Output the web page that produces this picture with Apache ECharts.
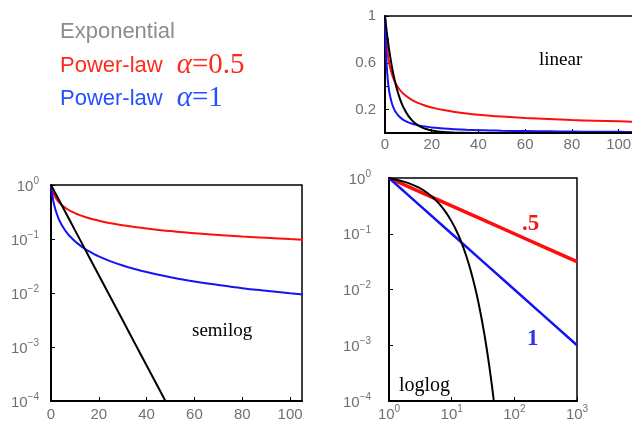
<!DOCTYPE html>
<html>
<head>
<meta charset="utf-8">
<script src="https://cdn.jsdelivr.net/npm/echarts@6/dist/echarts.min.js"></script>
<style>html,body{margin:0;padding:0;background:#fff}#c{width:632px;height:423px}</style>
</head>
<body>
<div id="c"></div>
<script>
// ---- data ----
// time samples shared by the linear and semilog panels
const tVals = [0, 0.5, 1, 1.5, 2, 3, 4, 5, 6, 7, 8, 10, 12, 14, 16, 18, 20, 25, 30, 35, 40, 45, 50, 60, 70, 80, 90, 100, 110];
const expVals = [1, 0.908, 0.825, 0.749, 0.681, 0.562, 0.463, 0.382, 0.315, 0.260, 0.215, 0.146, 0.0995, 0.0677, 0.0461, 0.0314, 0.0214, 0.00817, 0.00312, 0.00119, 0.000456, 0.000174, 0.0000665, 0.0000097, 0.0000014, 0.00000021, 0.00000003, 0.0000000045, 0.00000000065];
const pow05Vals = [1, 0.816, 0.707, 0.632, 0.577, 0.50, 0.447, 0.408, 0.378, 0.354, 0.333, 0.302, 0.277, 0.258, 0.243, 0.229, 0.218, 0.196, 0.180, 0.167, 0.156, 0.147, 0.140, 0.128, 0.119, 0.111, 0.105, 0.0995, 0.095];
const pow1Vals = [1, 0.667, 0.50, 0.40, 0.333, 0.25, 0.20, 0.167, 0.143, 0.125, 0.111, 0.091, 0.077, 0.0667, 0.0588, 0.0526, 0.0476, 0.0385, 0.0323, 0.0278, 0.0244, 0.0217, 0.0196, 0.0164, 0.0141, 0.0123, 0.011, 0.0099, 0.009];
// loglog panel
const expLogX = [1, 2, 3, 4, 5, 6, 8, 10, 12, 14, 17, 20, 24, 28, 32, 36, 40, 44, 48, 52];
const expLogY = [1, 0.819, 0.670, 0.549, 0.449, 0.368, 0.247, 0.165, 0.111, 0.0743, 0.0408, 0.0224, 0.0101, 0.00452, 0.00203, 0.000912, 0.000409, 0.000184, 0.0000827, 0.0000372];
const powLogX = [1, 3, 10, 30, 100, 300, 1000];
const pow05LogY = [1, 0.577, 0.316, 0.183, 0.1, 0.0577, 0.0316];
const pow1LogY = [1, 0.333, 0.1, 0.0333, 0.01, 0.00333, 0.001];
// tick labels
const linYLabels = {'0.2': '0.2', '0.6': '0.6', '1.0': '1'};
const logYLabels = {'-4': ['10', '−4'], '-3': ['10', '−3'], '-2': ['10', '−2'], '-1': ['10', '−1'], '0': ['10', '0']};
const logXLabels = {'0': ['10', '0'], '1': ['10', '1'], '2': ['10', '2'], '3': ['10', '3']};
// legend / annotation texts
const legendExp = 'Exponential';
const legendPow05 = ['Power-law', 'α', '=0.5'];
const legendPow1 = ['Power-law', 'α', '=1'];

const RED = '#ff0d0d', BLUE = '#1414f5', BLACK = '#000';
const zip = (xs, ys) => xs.map((x, i) => [x, ys[i]]);
const labelColor = '#707070';
const richSup = {
  b: {fontFamily: 'Liberation Sans', fontSize: 15, color: labelColor, lineHeight: 18, verticalAlign: 'bottom'},
  s: {fontFamily: 'Liberation Sans', fontSize: 10, color: labelColor, lineHeight: 18, verticalAlign: 'top'}
};
const logFmt = (map) => (v) => {
  const k = String(Math.round(Math.log10(v)));
  const p = map[k];
  return p ? '{b|' + p[0] + '}{s|' + p[1] + '}' : '';
};
const axisLineStyle = {show: true, lineStyle: {color: '#000', width: 2}};
const tickStyle = {show: true, inside: true, length: 4, lineStyle: {color: '#000', width: 1}};
const plainLabel = {fontFamily: 'Liberation Sans', fontSize: 15, color: labelColor};
const gridBase = {show: true, borderColor: '#000', borderWidth: 1.5, backgroundColor: 'transparent', containLabel: false, outerBoundsMode: 'none'};
const legendRich = (col) => ({
  a: {fontFamily: 'Liberation Sans', fontSize: 22, fill: col, lineHeight: 30},
  b: {fontFamily: 'Liberation Serif', fontStyle: 'italic', fontSize: 29, fill: col, lineHeight: 30, padding: [0, 0, 0, 14]},
  c: {fontFamily: 'Liberation Serif', fontSize: 29, fill: col, lineHeight: 30}
});

const chart = echarts.init(document.getElementById('c'), null, {renderer: 'canvas'});
chart.setOption({
  animation: false,
  backgroundColor: '#fff',
  grid: [
    Object.assign({left: 385, top: 16, width: 250, height: 117}, gridBase),
    Object.assign({left: 51, top: 185, width: 251, height: 216}, gridBase),
    Object.assign({left: 389, top: 178, width: 188, height: 223}, gridBase)
  ],
  xAxis: [
    {gridIndex: 0, type: 'value', min: 0, max: 107, interval: 20, axisLine: axisLineStyle, axisTick: tickStyle, splitLine: {show: false},
     axisLabel: Object.assign({margin: 4, showMaxLabel: false}, plainLabel)},
    {gridIndex: 1, type: 'value', min: 0, max: 105, interval: 20, axisLine: axisLineStyle, axisTick: tickStyle, splitLine: {show: false},
     axisLabel: Object.assign({margin: 6, showMaxLabel: false}, plainLabel)},
    {gridIndex: 2, type: 'log', min: 1, max: 1000, splitNumber: 3, axisLine: axisLineStyle, axisTick: tickStyle, splitLine: {show: false},
     axisLabel: {margin: 3, formatter: logFmt(logXLabels), rich: richSup}}
  ],
  yAxis: [
    {gridIndex: 0, type: 'value', min: 0, max: 1, interval: 0.2, axisLine: axisLineStyle, axisTick: tickStyle, splitLine: {show: false},
     axisLabel: Object.assign({margin: 9, formatter: (v) => linYLabels[v.toFixed(1)] || ''}, plainLabel)},
    {gridIndex: 1, type: 'log', min: 0.0001, max: 1, splitNumber: 4, axisLine: axisLineStyle, axisTick: tickStyle, splitLine: {show: false},
     axisLabel: {margin: 12, formatter: logFmt(logYLabels), rich: richSup}},
    {gridIndex: 2, type: 'log', min: 0.0001, max: 1, splitNumber: 4, axisLine: axisLineStyle, axisTick: tickStyle, splitLine: {show: false},
     axisLabel: {margin: 18, formatter: logFmt(logYLabels), rich: richSup}}
  ],
  series: [
    {type: 'line', xAxisIndex: 0, yAxisIndex: 0, data: zip(tVals, pow05Vals), smooth: 0.4, showSymbol: false, lineStyle: {color: RED, width: 2}},
    {type: 'line', xAxisIndex: 0, yAxisIndex: 0, data: zip(tVals, pow1Vals), smooth: 0.4, showSymbol: false, lineStyle: {color: BLUE, width: 2}},
    {type: 'line', xAxisIndex: 0, yAxisIndex: 0, data: zip(tVals, expVals), smooth: 0.4, showSymbol: false, lineStyle: {color: BLACK, width: 2}},

    {type: 'line', xAxisIndex: 1, yAxisIndex: 1, data: zip(tVals, pow05Vals), smooth: 0.4, showSymbol: false, lineStyle: {color: RED, width: 2}},
    {type: 'line', xAxisIndex: 1, yAxisIndex: 1, data: zip(tVals, pow1Vals), smooth: 0.4, showSymbol: false, lineStyle: {color: BLUE, width: 2}},
    {type: 'line', xAxisIndex: 1, yAxisIndex: 1, data: zip(tVals.slice(0, 23), expVals.slice(0, 23)), showSymbol: false, lineStyle: {color: BLACK, width: 2}},

    {type: 'line', xAxisIndex: 2, yAxisIndex: 2, data: zip(powLogX, pow05LogY), showSymbol: false, lineStyle: {color: RED, width: 3.5}},
    {type: 'line', xAxisIndex: 2, yAxisIndex: 2, data: zip(powLogX, pow1LogY), showSymbol: false, lineStyle: {color: BLUE, width: 2.5}},
    {type: 'line', xAxisIndex: 2, yAxisIndex: 2, data: zip(expLogX, expLogY), smooth: 0.3, showSymbol: false, lineStyle: {color: BLACK, width: 2}}
  ],
  graphic: [
    {type: 'text', left: 60, top: 21, style: {text: legendExp, font: '22px "Liberation Sans"', fill: '#8c8c90'}},
    {type: 'text', left: 60, top: 51, style: {
      text: '{a|' + legendPow05[0] + '}{b|' + legendPow05[1] + '}{c|' + legendPow05[2] + '}', rich: legendRich('#ff2a1e')}},
    {type: 'text', left: 60, top: 84, style: {
      text: '{a|' + legendPow1[0] + '}{b|' + legendPow1[1] + '}{c|' + legendPow1[2] + '}', rich: legendRich('#2450ff')}},
    {type: 'text', left: 539, top: 51, style: {text: 'linear', font: '19px "Liberation Serif"', fill: '#000'}},
    {type: 'text', left: 192, top: 322, style: {text: 'semilog', font: '19px "Liberation Serif"', fill: '#000'}},
    {type: 'text', left: 399, top: 376, style: {text: 'loglog', font: '20px "Liberation Serif"', fill: '#000'}},
    {type: 'text', left: 522, top: 213, style: {text: '.5', font: 'bold 23px "Liberation Serif"', fill: '#ee1c1c'}},
    {type: 'text', left: 527, top: 328, style: {text: '1', font: 'bold 23px "Liberation Serif"', fill: '#3030ee'}}
  ]
});
</script>
</body>
</html>
